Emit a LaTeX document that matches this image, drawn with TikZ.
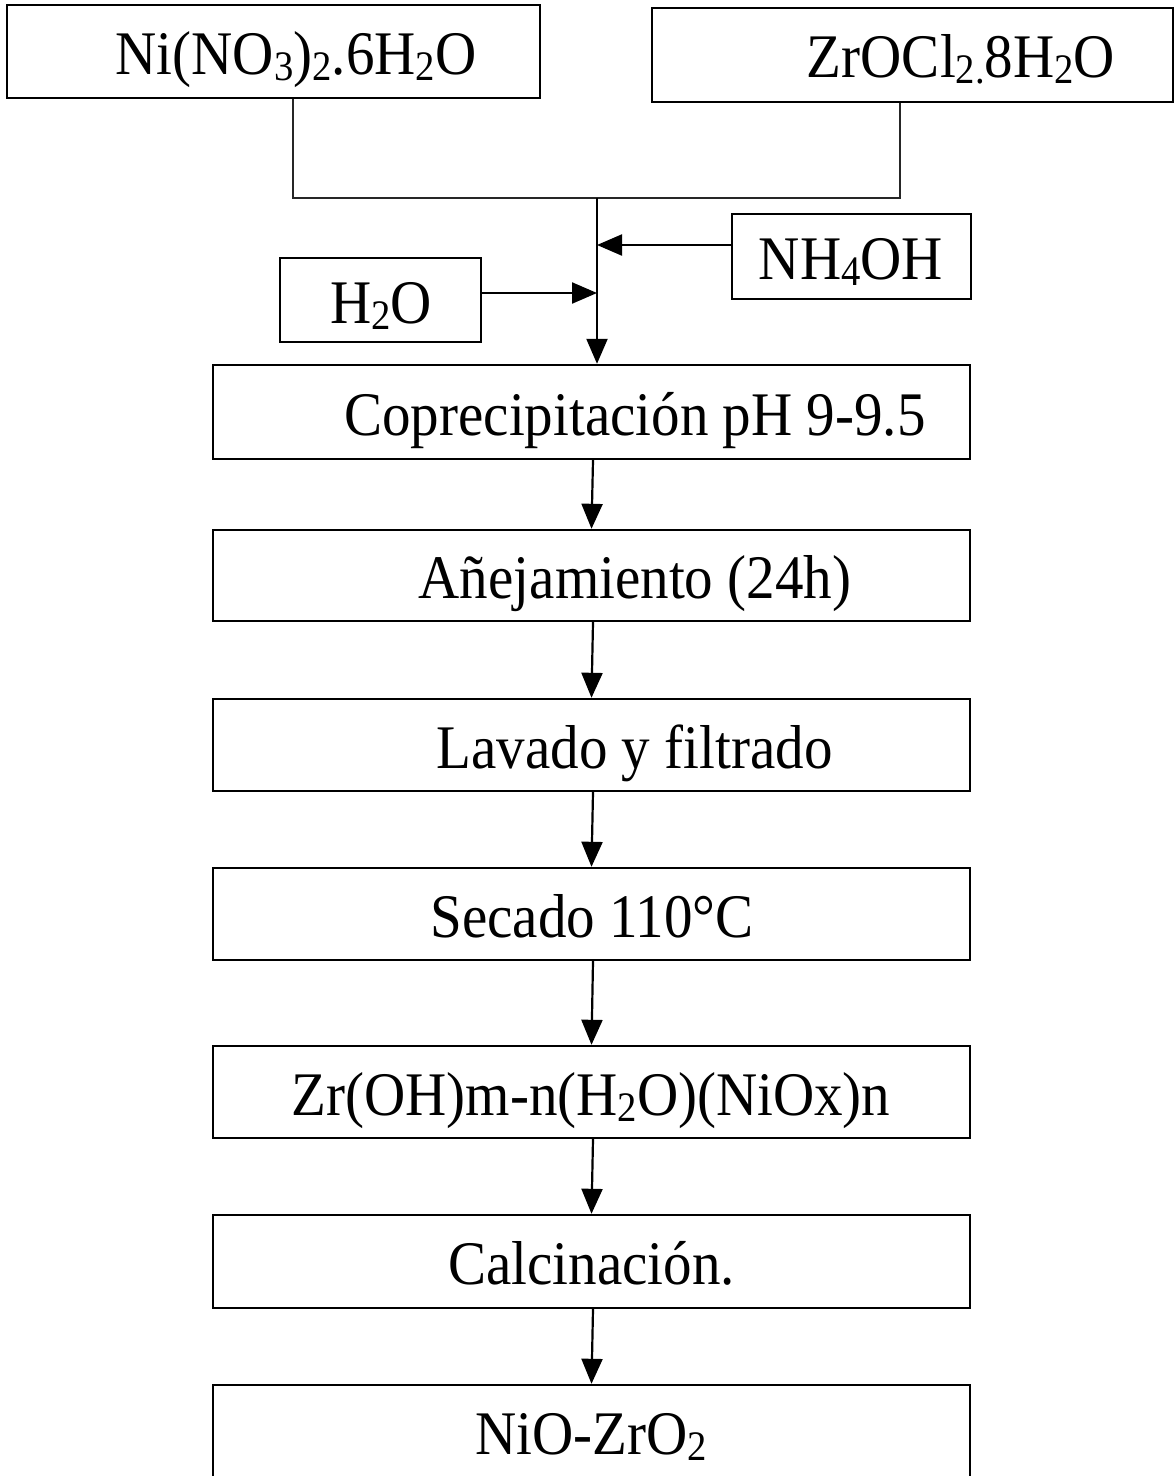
\documentclass[tikz,border=0pt]{standalone}
\usepackage{fontspec}
\setmainfont{Liberation Serif}[FakeStretch=0.92]
\usetikzlibrary{arrows.meta}
\newcommand{\chemsub}[1]{\raisebox{-0.22ex}{\fontsize{42}{42}\selectfont #1}}
\begin{document}
\begin{tikzpicture}[x=1pt,y=-1pt,
  boxstyle/.style={draw=black,line width=2.4pt,rectangle,inner sep=0pt,fill=none},
  txtstyle/.style={anchor=base,inner sep=0pt,font=\fontsize{62}{70}\selectfont},
  arr/.style={line width=2.2pt,arrows={-Triangle[length=25pt,width=21pt]}},
  joinline/.style={line width=1.1pt,draw=black!85}]
\useasboundingbox (0,0) rectangle (1175,1476);
% boxes
\node[boxstyle,minimum width=533pt,minimum height=93pt] (ni) at (273.5,51.5) {};
\node[boxstyle,minimum width=521pt,minimum height=94pt] (zr) at (912.5,55) {};
\node[boxstyle,minimum width=239pt,minimum height=85pt] (nh) at (851.5,256.5) {};
\node[boxstyle,minimum width=201pt,minimum height=84pt] (hw) at (380.5,300) {};
\node[boxstyle,minimum width=757pt,minimum height=94pt] (cop) at (591.5,412) {};
\node[boxstyle,minimum width=757pt,minimum height=91pt] (ane) at (591.5,575.5) {};
\node[boxstyle,minimum width=757pt,minimum height=92pt] (lav) at (591.5,745) {};
\node[boxstyle,minimum width=757pt,minimum height=92pt] (sec) at (591.5,914) {};
\node[boxstyle,minimum width=757pt,minimum height=92pt] (zro) at (591.5,1092) {};
\node[boxstyle,minimum width=757pt,minimum height=93pt] (cal) at (591.5,1261.5) {};
\node[boxstyle,minimum width=757pt,minimum height=96pt] (nio) at (591.5,1433) {};
% texts
\node[txtstyle] (tni) at (296,74) {Ni(NO\chemsub{3})\chemsub{2}.6H\chemsub{2}O};
\node[txtstyle] (tzr) at (961,77) {ZrOCl\chemsub{2.}8H\chemsub{2}O};
\node[txtstyle] (tnh) at (851,279) {NH\chemsub{4}OH};
\node[txtstyle] (thw) at (381,323) {H\chemsub{2}O};
\node[txtstyle] (tcop) at (635,435) {Coprecipitación pH 9-9.5};
\node[txtstyle] (tane) at (635,598.5) {Añejamiento (24h)};
\node[txtstyle] (tlav) at (634.5,768) {Lavado y filtrado};
\node[txtstyle] (tsec) at (592,937) {Secado 110°C};
\node[txtstyle] (tzro) at (591,1115) {Zr(OH)m-n(H\chemsub{2}O)(NiOx)n};
\node[txtstyle] (tcal) at (591.5,1284.5) {Calcinación.};
\node[txtstyle] (tnio) at (591,1454) {NiO-ZrO\chemsub{2}};
% junction
\coordinate (j1) at (293,198);
\coordinate (j2) at (900,198);
\coordinate (jm) at (597,198);
\coordinate (a1) at (597,245);
\coordinate (a2) at (597,293);
\draw[joinline] (ni.south -| j1) -- (j1) -- (j2) -- (zr.south -| j2);
\draw[arr] (jm) -- (cop.north -| jm);
\draw[arr] (nh.west |- a1) -- (a1);
\draw[arr] (hw.east |- a2) -- (a2);
\draw[arr] ([xshift=1.5pt]cop.south) -- (ane.north);
\draw[arr] ([xshift=1.5pt]ane.south) -- (lav.north);
\draw[arr] ([xshift=1.5pt]lav.south) -- (sec.north);
\draw[arr] ([xshift=1.5pt]sec.south) -- (zro.north);
\draw[arr] ([xshift=1.5pt]zro.south) -- (cal.north);
\draw[arr] ([xshift=1.5pt]cal.south) -- (nio.north);
\end{tikzpicture}
\end{document}
